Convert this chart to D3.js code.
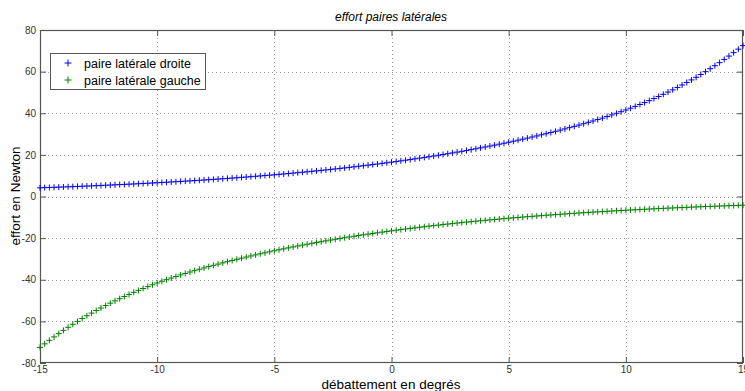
<!DOCTYPE html>
<html>
<head>
<meta charset="utf-8">
<script src="https://cdn.jsdelivr.net/npm/d3@7"></script>
<style>
  html, body { margin: 0; padding: 0; background: #fff; }
  svg { display: block; }
  text { font-family: "Liberation Sans", Arial, sans-serif; }
</style>
</head>
<body>
<svg id="chart" width="745" height="391"></svg>
<script>
// ---- data ----
const xStart = -15, xStep = 0.2;
const seriesNames = ["paire latérale droite", "paire latérale gauche"];
const xTicks = [-15, -10, -5, 0, 5, 10, 15];
const yTicks = [-80, -60, -40, -20, 0, 20, 40, 60, 80];

const droite = [
  4.18, 4.26, 4.34, 4.42, 4.50,
  4.58, 4.67, 4.75, 4.84, 4.93,
  5.02, 5.11, 5.21, 5.31, 5.40,
  5.50, 5.60, 5.71, 5.81, 5.92,
  6.03, 6.14, 6.25, 6.37, 6.49,
  6.61, 6.73, 6.85, 6.98, 7.11,
  7.24, 7.37, 7.51, 7.65, 7.79,
  7.94, 8.08, 8.23, 8.38, 8.54,
  8.70, 8.86, 9.02, 9.19, 9.36,
  9.53, 9.71, 9.88, 10.07, 10.25,
  10.44, 10.63, 10.83, 11.03, 11.24,
  11.44, 11.65, 11.87, 12.09, 12.31,
  12.54, 12.77, 13.01, 13.25, 13.49,
  13.74, 13.99, 14.25, 14.52, 14.78,
  15.06, 15.34, 15.62, 15.91, 16.20,
  16.50, 16.81, 17.12, 17.43, 17.75,
  18.08, 18.42, 18.76, 19.10, 19.45,
  19.81, 20.18, 20.55, 20.93, 21.32,
  21.71, 22.11, 22.52, 22.94, 23.36,
  23.79, 24.23, 24.68, 25.14, 25.60,
  26.07, 26.55, 27.05, 27.54, 28.05,
  28.57, 29.10, 29.64, 30.18, 30.74,
  31.31, 31.89, 32.48, 33.08, 33.69,
  34.31, 34.96, 35.62, 36.29, 36.98,
  37.68, 38.43, 39.19, 39.96, 40.75,
  41.56, 42.42, 43.30, 44.20, 45.12,
  46.05, 47.05, 48.06, 49.10, 50.17,
  51.25, 52.40, 53.58, 54.79, 56.02,
  57.28, 58.62, 60.00, 61.40, 62.84,
  64.31, 65.87, 67.47, 69.11, 70.79,
  72.51
];

const gauche = [
  -72.51, -70.79, -69.11, -67.47, -65.87,
  -64.31, -62.84, -61.40, -60.00, -58.62,
  -57.28, -56.02, -54.79, -53.58, -52.40,
  -51.25, -50.17, -49.10, -48.06, -47.05,
  -46.05, -45.12, -44.20, -43.30, -42.42,
  -41.56, -40.75, -39.96, -39.19, -38.43,
  -37.68, -36.98, -36.29, -35.62, -34.96,
  -34.31, -33.69, -33.08, -32.48, -31.89,
  -31.31, -30.74, -30.18, -29.64, -29.10,
  -28.57, -28.05, -27.54, -27.05, -26.55,
  -26.07, -25.60, -25.14, -24.68, -24.23,
  -23.79, -23.36, -22.94, -22.52, -22.11,
  -21.71, -21.32, -20.93, -20.55, -20.18,
  -19.81, -19.45, -19.10, -18.76, -18.42,
  -18.08, -17.75, -17.43, -17.12, -16.81,
  -16.50, -16.20, -15.91, -15.62, -15.34,
  -15.06, -14.78, -14.52, -14.25, -13.99,
  -13.74, -13.49, -13.25, -13.01, -12.77,
  -12.54, -12.31, -12.09, -11.87, -11.65,
  -11.44, -11.24, -11.03, -10.83, -10.63,
  -10.44, -10.25, -10.07, -9.88, -9.71,
  -9.53, -9.36, -9.19, -9.02, -8.86,
  -8.70, -8.54, -8.38, -8.23, -8.08,
  -7.94, -7.79, -7.65, -7.51, -7.37,
  -7.24, -7.11, -6.98, -6.85, -6.73,
  -6.61, -6.49, -6.37, -6.25, -6.14,
  -6.03, -5.92, -5.81, -5.71, -5.60,
  -5.50, -5.40, -5.31, -5.21, -5.11,
  -5.02, -4.93, -4.84, -4.75, -4.67,
  -4.58, -4.50, -4.42, -4.34, -4.26,
  -4.18
];

const colors = ["#0000ff", "#008000"];

// ---- layout ----
const svg = d3.select("#chart");
const L = 40, R = 743, T = 30, B = 363;
const x = d3.scaleLinear().domain([-15, 15]).range([L, R]);
const y = d3.scaleLinear().domain([-80, 80]).range([B, T]);
const fmt = d => String(d);

// grid
const grid = svg.append("g").attr("stroke", "#a0a0a0").attr("stroke-width", 1)
  .attr("stroke-dasharray", "1,3");
grid.selectAll("line.gx").data(xTicks.slice(1, -1)).join("line")
  .attr("x1", d => Math.round(x(d)) + 0.5).attr("x2", d => Math.round(x(d)) + 0.5)
  .attr("y1", T).attr("y2", B);
grid.selectAll("line.gy").data(yTicks.slice(1, -1)).join("line")
  .attr("y1", d => Math.round(y(d)) + 0.5).attr("y2", d => Math.round(y(d)) + 0.5)
  .attr("x1", L).attr("x2", R);

// axes using d3 axes (ticks inside)
const axColor = "#555";
function styleAxis(g) {
  g.select(".domain").remove();
  g.selectAll(".tick line").attr("stroke", axColor);
  g.selectAll(".tick text").attr("fill", "#333").attr("font-size", 10)
    .attr("font-family", "Liberation Sans, Arial, sans-serif");
}
svg.append("g").attr("transform", `translate(0,${B})`)
  .call(d3.axisBottom(x).tickValues(xTicks).tickSizeInner(-6).tickSizeOuter(0).tickPadding(3).tickFormat(fmt))
  .call(styleAxis);
svg.append("g").attr("transform", `translate(0,${T})`)
  .call(d3.axisTop(x).tickValues(xTicks).tickSizeInner(-6).tickSizeOuter(0).tickFormat(""))
  .call(styleAxis);
svg.append("g").attr("transform", `translate(${L},0)`)
  .call(d3.axisLeft(y).tickValues(yTicks).tickSizeInner(-6).tickSizeOuter(0).tickPadding(4).tickFormat(fmt))
  .call(styleAxis);
svg.append("g").attr("transform", `translate(${R},0)`)
  .call(d3.axisRight(y).tickValues(yTicks).tickSizeInner(-6).tickSizeOuter(0).tickFormat(""))
  .call(styleAxis);

// box
svg.append("rect").attr("x", L + 0.5).attr("y", T + 0.5)
  .attr("width", R - L - 1).attr("height", B - T - 1)
  .attr("fill", "none").attr("stroke", axColor).attr("stroke-width", 1.2);

// markers
const plus = (cx, cy, s) => `M${cx - s},${cy}H${cx + s}M${cx},${cy - s}V${cy + s}`;
[droite, gauche].forEach((vals, si) => {
  const path = vals.map((v, i) => plus(x(xStart + i * xStep), y(v), 3)).join("");
  svg.append("path").attr("d", path).attr("fill", "none")
    .attr("stroke", colors[si]).attr("stroke-width", 1);
});

// title & labels
svg.append("text").attr("x", 391).attr("y", 21).attr("text-anchor", "middle")
  .attr("font-size", 12).attr("font-style", "italic").attr("fill", "#000")
  .text("effort paires latérales");
svg.append("text").attr("x", 391).attr("y", 389).attr("text-anchor", "middle")
  .attr("font-size", 13.5).attr("fill", "#000").text("débattement en degrés");
svg.append("text").attr("transform", "translate(20,196) rotate(-90)")
  .attr("text-anchor", "middle").attr("font-size", 13.5).attr("fill", "#000")
  .text("effort en Newton");

// legend
const lg = svg.append("g");
lg.append("rect").attr("x", 50.5).attr("y", 53.5).attr("width", 155).attr("height", 36)
  .attr("fill", "#fff").attr("stroke", "#555").attr("stroke-width", 1);
seriesNames.forEach((name, i) => {
  const cy = 63 + i * 17;
  lg.append("path").attr("d", plus(68, cy, 3.5)).attr("stroke", colors[i]).attr("fill", "none");
  lg.append("text").attr("x", 84).attr("y", cy + 4.5).attr("font-size", 12.5).attr("fill", "#000").text(name);
});
</script>
</body>
</html>
